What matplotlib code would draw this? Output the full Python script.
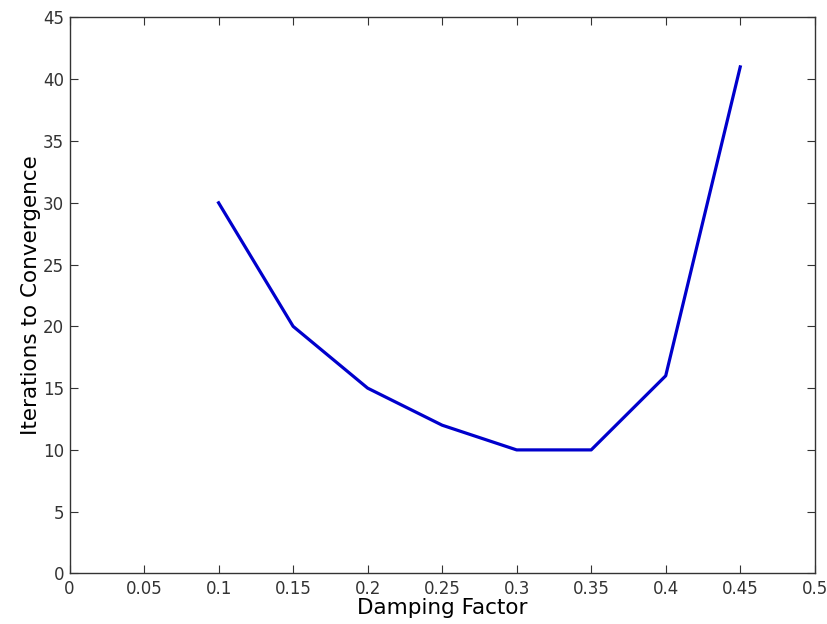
import matplotlib
matplotlib.use('Agg')
import matplotlib.pyplot as plt

damping = [0.1, 0.15, 0.2, 0.25, 0.3, 0.35, 0.4, 0.45]
iterations = [30, 20, 15, 12, 10, 10, 16, 41]
xtick_vals = [0, 0.05, 0.1, 0.15, 0.2, 0.25, 0.3, 0.35, 0.4, 0.45, 0.5]
xtick_text = ['0', '0.05', '0.1', '0.15', '0.2', '0.25', '0.3', '0.35', '0.4', '0.45', '0.5']

plt.rcParams['font.family'] = 'DejaVu Sans'

fig = plt.figure(figsize=(8.28, 6.24), dpi=100)
ax = fig.add_axes([0.084, 0.081, 0.9, 0.891])

ax.plot(damping, iterations, color='#0000cc', linewidth=2.3)

ax.set_xlim(0, 0.5)
ax.set_ylim(0, 45)
ax.set_xticks(xtick_vals)
ax.set_xticklabels(xtick_text)
ax.set_yticks(range(0, 46, 5))
ax.tick_params(direction='in', top=True, right=True, length=6, labelsize=12,
               colors='#333333')
ax.tick_params(axis='x', pad=5)
ax.tick_params(axis='y', pad=4)
for s in ax.spines.values():
    s.set_color('#333333')
    s.set_linewidth(1)

ax.set_xlabel('Damping Factor', fontsize=15.5, labelpad=0)
ax.set_ylabel('Iterations to Convergence', fontsize=15.5, labelpad=1)

fig.savefig('out.png', dpi=100)
